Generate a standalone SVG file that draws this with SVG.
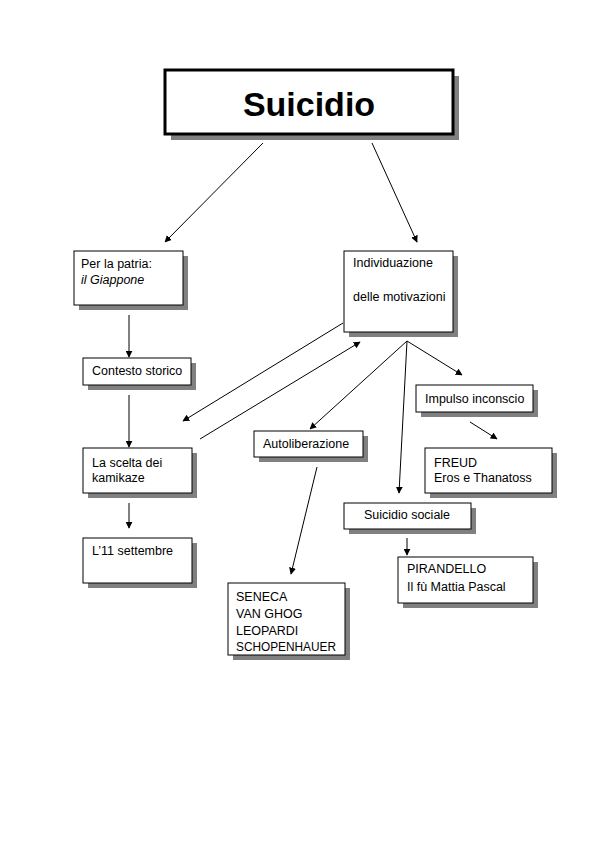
<svg xmlns="http://www.w3.org/2000/svg" width="596" height="842" viewBox="0 0 596 842">
<style>
.sh{fill:#808080}
.bx{fill:#fff;stroke:#000;stroke-width:1}
.t{font-family:"Liberation Sans",Arial,sans-serif;font-size:12.5px;fill:#000}
.c{stroke:#000;stroke-width:1;fill:none;marker-end:url(#ah)}
</style>
<defs>
<marker id="ah" viewBox="0 0 10 10" refX="9" refY="5" markerWidth="7" markerHeight="7" markerUnits="userSpaceOnUse" orient="auto">
<path d="M0,0 L10,5 L0,10 z" fill="#000"/>
</marker>
</defs>
<rect width="596" height="842" fill="#fff"/>
<g id="n-suicidio">
<rect class="sh" x="171" y="76" width="288" height="64"/>
<rect x="165" y="70" width="288" height="64" fill="#fff" stroke="#000" stroke-width="3"/>
<text x="309" y="116" text-anchor="middle" font-family="'Liberation Sans',Arial,sans-serif" font-weight="bold" font-size="34">Suicidio</text>
</g>
<g id="n-patria">
<rect class="sh" x="79" y="256" width="109" height="54"/>
<rect class="bx" x="74" y="251" width="109" height="54"/>
<text class="t" x="81" y="268">Per la patria:</text>
<text class="t" x="81" y="284" font-style="italic">il Giappone</text>
</g>
<g id="n-individuazione">
<rect class="sh" x="349" y="256" width="109" height="81"/>
<rect class="bx" x="344" y="251" width="109" height="81"/>
<text class="t" x="353" y="267">Individuazione</text>
<text class="t" x="353" y="301">delle motivazioni</text>
</g>
<g id="n-contesto">
<rect class="sh" x="88" y="363" width="108" height="27"/>
<rect class="bx" x="83" y="358" width="108" height="27"/>
<text class="t" x="92" y="375">Contesto storico</text>
</g>
<g id="n-scelta">
<rect class="sh" x="88" y="453" width="109" height="45"/>
<rect class="bx" x="83" y="448" width="109" height="45"/>
<text class="t" x="92" y="467">La scelta dei</text>
<text class="t" x="92" y="482">kamikaze</text>
</g>
<g id="n-11settembre">
<rect class="sh" x="88" y="543" width="109" height="45"/>
<rect class="bx" x="83" y="538" width="109" height="45"/>
<text class="t" x="92" y="555">L’11 settembre</text>
</g>
<g id="n-autoliberazione">
<rect class="sh" x="259" y="436" width="109" height="26"/>
<rect class="bx" x="254" y="431" width="109" height="26"/>
<text class="t" x="263" y="448">Autoliberazione</text>
</g>
<g id="n-seneca">
<rect class="sh" x="233" y="588" width="117" height="72"/>
<rect class="bx" x="228" y="583" width="117" height="72"/>
<text class="t" x="236" y="601">SENECA</text>
<text class="t" x="236" y="618">VAN GHOG</text>
<text class="t" x="236" y="635">LEOPARDI</text>
<text class="t" x="236" y="651" textLength="100" lengthAdjust="spacingAndGlyphs">SCHOPENHAUER</text>
</g>
<g id="n-impulso">
<rect class="sh" x="421" y="390" width="117" height="27"/>
<rect class="bx" x="416" y="385" width="117" height="27"/>
<text class="t" x="425" y="403">Impulso inconscio</text>
</g>
<g id="n-freud">
<rect class="sh" x="430" y="453" width="127" height="45"/>
<rect class="bx" x="425" y="448" width="127" height="45"/>
<text class="t" x="434" y="467">FREUD</text>
<text class="t" x="434" y="482">Eros e Thanatoss</text>
</g>
<g id="n-sociale">
<rect class="sh" x="349" y="508" width="127" height="26"/>
<rect class="bx" x="344" y="503" width="127" height="26"/>
<text class="t" x="407" y="519" text-anchor="middle">Suicidio sociale</text>
</g>
<g id="n-pirandello">
<rect class="sh" x="403" y="562" width="135" height="46"/>
<rect class="bx" x="398" y="557" width="135" height="46"/>
<text class="t" x="407" y="573">PIRANDELLO</text>
<text class="t" x="407" y="591">Il fù Mattia Pascal</text>
</g>
<g id="connectors">
<line class="c" x1="263" y1="143" x2="165" y2="242"/>
<line class="c" x1="372" y1="143" x2="417" y2="242"/>
<line class="c" x1="129" y1="315" x2="129" y2="357"/>
<line class="c" x1="129" y1="395" x2="129" y2="447"/>
<line class="c" x1="129" y1="503" x2="129" y2="528"/>
<line class="c" x1="343" y1="323" x2="183" y2="421"/>
<line class="c" x1="200" y1="439" x2="360" y2="342"/>
<line class="c" x1="407" y1="341" x2="310" y2="429"/>
<line class="c" x1="317" y1="467" x2="291" y2="574"/>
<line class="c" x1="407" y1="341" x2="462" y2="375"/>
<line class="c" x1="470" y1="422" x2="497" y2="439"/>
<line class="c" x1="407" y1="341" x2="399" y2="493"/>
<line class="c" x1="407" y1="538" x2="407" y2="555"/>
</g>
</svg>
